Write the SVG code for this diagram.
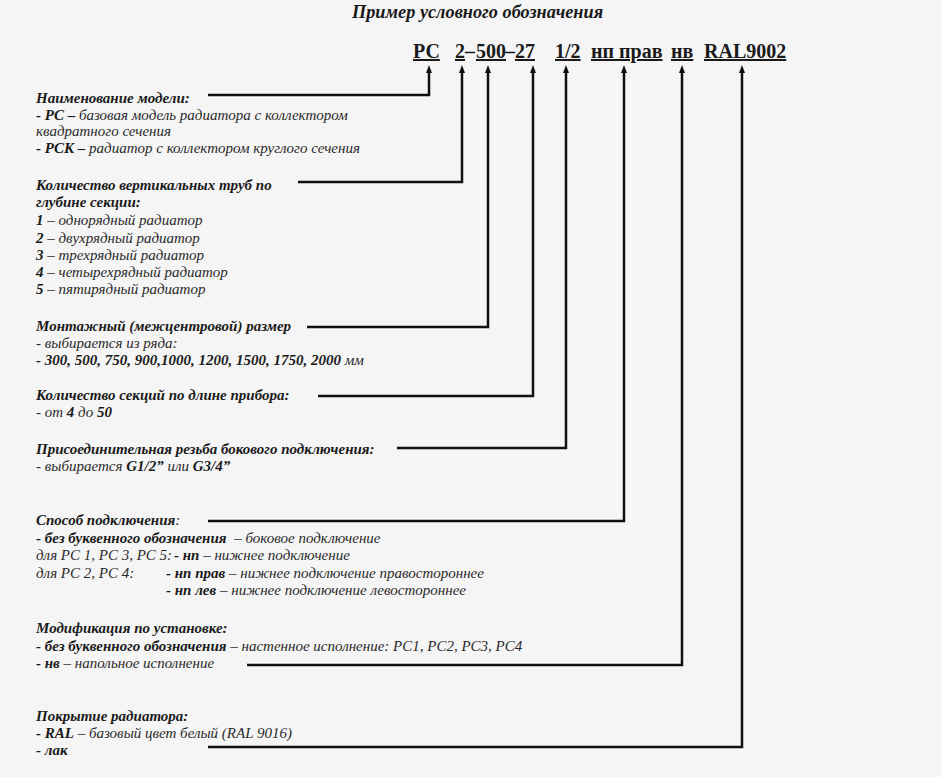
<svg xmlns="http://www.w3.org/2000/svg" width="941" height="777" viewBox="0 0 941 777">
<style>
text{font-family:"Liberation Serif","Times New Roman",serif;fill:#1a1a1a}
.t{font-size:18.3px;font-weight:bold;font-style:italic}
.c{font-size:20px;font-weight:bold;text-decoration:underline}
.d{font-size:20px;font-weight:bold}
.b{font-size:15px;font-style:italic}
.h{font-weight:bold}
.r{fill:#2a2a2a;font-weight:normal}
.conn{fill:none;stroke:#111;stroke-width:2.5;marker-end:url(#arr)}
</style>
<defs>
<marker id="arr" viewBox="0 0 8 6" refX="2" refY="3" markerWidth="8" markerHeight="6" markerUnits="userSpaceOnUse" orient="auto">
<path d="M0,0 L8,3 L0,6 z" fill="#111"/>
</marker>
</defs>
<rect width="941" height="777" fill="#f5f5f5"/>
<g id="title"><text class="t" x="352" y="18">Пример условного обозначения</text></g>
<g id="code">
<g id="code-pc"><text class="c" x="413" y="58">РС</text></g>
<g id="code-2"><text class="c" x="455" y="58">2</text></g>
<text class="d" x="465" y="58">–</text>
<g id="code-500"><text class="c" x="476" y="58">500</text></g>
<text class="d" x="505" y="58">–</text>
<g id="code-27"><text class="c" x="515" y="58">27</text></g>
<g id="code-12"><text class="c" x="555" y="58">1/2</text></g>
<g id="code-np"><text class="c" x="591" y="58">нп прав</text></g>
<g id="code-nv"><text class="c" x="671" y="58">нв</text></g>
<g id="code-ral"><text class="c" x="704" y="58">RAL9002</text></g>
</g>
<g id="connectors">
<path class="conn" d="M208 95 H429 V71"/>
<path class="conn" d="M298 182 H462 V71"/>
<path class="conn" d="M307 327 H488 V71"/>
<path class="conn" d="M318 396 H533 V71"/>
<path class="conn" d="M397 448 H566 V71"/>
<path class="conn" d="M208 521 H624 V71"/>
<path class="conn" d="M247 665 H682 V71"/>
<path class="conn" d="M208 747 H742 V71"/>
</g>
<g id="desc-model" class="b">
<text x="36" y="103" class="h">Наименование модели:</text>
<text x="36" y="120"><tspan class="h">- РС –</tspan><tspan class="r"> базовая модель радиатора с коллектором</tspan></text>
<text x="36" y="136" class="r">квадратного сечения</text>
<text x="36" y="153"><tspan class="h">- РСК –</tspan><tspan class="r"> радиатор с коллектором круглого сечения</tspan></text>
</g>
<g id="desc-tubes" class="b">
<text x="36" y="190" class="h">Количество вертикальных труб по</text>
<text x="36" y="207" class="h">глубине секции:</text>
<text x="36" y="225"><tspan class="h">1</tspan><tspan class="r"> – однорядный радиатор</tspan></text>
<text x="36" y="243"><tspan class="h">2</tspan><tspan class="r"> – двухрядный радиатор</tspan></text>
<text x="36" y="260"><tspan class="h">3</tspan><tspan class="r"> – трехрядный радиатор</tspan></text>
<text x="36" y="277"><tspan class="h">4</tspan><tspan class="r"> – четырехрядный радиатор</tspan></text>
<text x="36" y="294"><tspan class="h">5</tspan><tspan class="r"> – пятирядный радиатор</tspan></text>
</g>
<g id="desc-size" class="b">
<text x="36" y="331" class="h">Монтажный (межцентровой) размер</text>
<text x="36" y="348" class="r">- выбирается из ряда:</text>
<text x="36" y="365"><tspan class="h">- 300, 500, 750, 900,1000, 1200, 1500, 1750, 2000</tspan><tspan class="r"> мм</tspan></text>
</g>
<g id="desc-sections" class="b">
<text x="36" y="400" class="h">Количество секций по длине прибора:</text>
<text x="36" y="417"><tspan class="r">- от </tspan><tspan class="h">4</tspan><tspan class="r"> до </tspan><tspan class="h">50</tspan></text>
</g>
<g id="desc-thread" class="b">
<text x="36" y="454" class="h">Присоединительная резьба бокового подключения:</text>
<text x="36" y="471"><tspan class="r">- выбирается </tspan><tspan class="h">G1/2”</tspan><tspan class="r"> или </tspan><tspan class="h">G3/4”</tspan></text>
</g>
<g id="desc-connection" class="b">
<text x="36" y="525"><tspan class="h">Способ подключения</tspan><tspan class="r">:</tspan></text>
<text x="36" y="543"><tspan class="h">- без буквенного обозначения</tspan><tspan class="r" dx="4"> – боковое подключение</tspan></text>
<text x="36" y="560" class="r">для РС 1, РС 3, РС 5:</text>
<text x="174" y="560"><tspan class="h">- нп</tspan><tspan class="r"> – нижнее подключение</tspan></text>
<text x="36" y="578" class="r">для РС 2, РС 4:</text>
<text x="166" y="578"><tspan class="h">- нп прав</tspan><tspan class="r"> – нижнее подключение правостороннее</tspan></text>
<text x="166" y="595"><tspan class="h">- нп лев</tspan><tspan class="r"> – нижнее подключение левостороннее</tspan></text>
</g>
<g id="desc-mount" class="b">
<text x="36" y="633" class="h">Модификация по установке:</text>
<text x="36" y="651"><tspan class="h">- без буквенного обозначения</tspan><tspan class="r"> – настенное исполнение: РС1, РС2, РС3, РС4</tspan></text>
<text x="36" y="668"><tspan class="h">- нв</tspan><tspan class="r"> – напольное исполнение</tspan></text>
</g>
<g id="desc-coating" class="b">
<text x="36" y="721" class="h">Покрытие радиатора:</text>
<text x="36" y="738"><tspan class="h">- RAL</tspan><tspan class="r"> – базовый цвет белый (RAL 9016)</tspan></text>
<text x="36" y="755" class="h">- лак</text>
</g>
</svg>
